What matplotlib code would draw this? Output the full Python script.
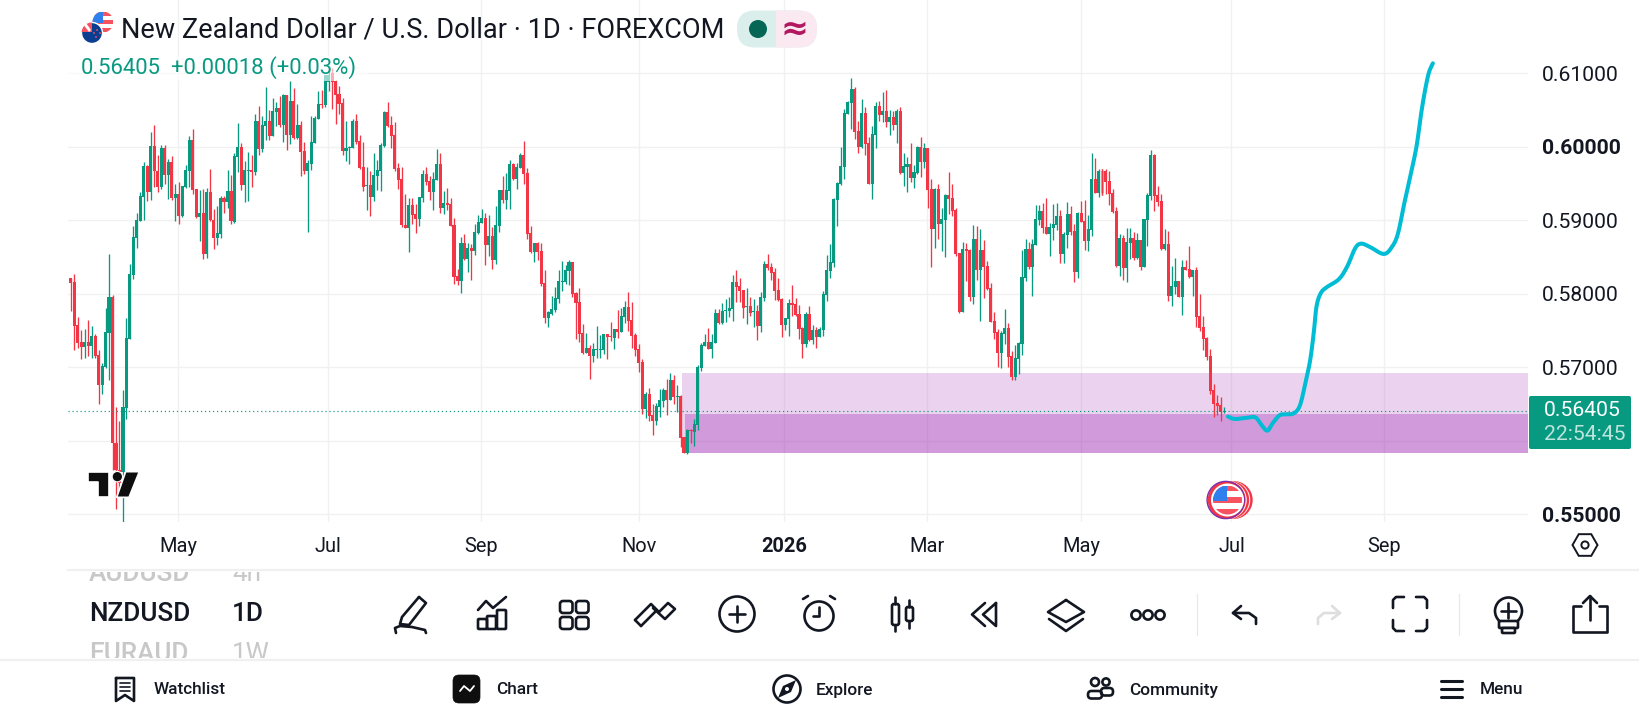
import numpy as np
import matplotlib
matplotlib.use("Agg")
import matplotlib.pyplot as plt
from matplotlib.patches import Rectangle, Circle, Polygon, FancyBboxPatch

plt.rcParams['font.family'] = ['Roboto', 'DejaVu Sans']

# prices, in units of 0.00001
opens = [
58216,58161,57576,57345,57277,57345,57291,57427,57168,56760,
56998,57468,57957,55971,55604,55581,56452,57386,58257,58760,
58996,59322,59740,59390,60012,59667,59454,59985,59617,59789,
59304,59359,59059,59458,59672,60093,59422,59046,59096,58542,
59386,59005,58760,58814,59304,59250,59399,58978,59857,59998,
59481,59667,59681,59658,60352,59971,60284,60352,60148,60474,
60529,60297,60705,60161,60624,60120,60297,59944,59672,59771,
60053,60379,60583,60569,60887,61000,60896,60715,60597,59944,
59985,59985,60352,60080,59726,59467,59481,59318,59604,59672,
60012,60474,60297,60161,59712,59563,58937,58896,59209,59087,
59018,59304,59631,59535,59386,59549,59767,59168,59236,59223,
58937,58243,58175,58692,58474,58624,58583,58828,58964,59032,
58665,58787,58461,58923,59413,59277,59399,59767,59563,59712,
59889,59644,58828,58570,58692,58583,58148,57672,57726,57780,
57930,58166,58162,58311,58434,58012,57890,57468,57196,57264,
57155,57241,57241,57241,57454,57427,57400,57522,57481,57686,
57822,57645,57441,57250,57073,56434,56638,56352,56271,56461,
56543,56692,56556,56828,56602,56611,56053,55835,56148,56121,
56216,56992,57291,57345,57250,57332,57740,57604,57767,57767,
57794,58162,58107,58053,57822,57835,57754,57767,57563,57944,
58407,58366,58298,58053,57930,57577,57658,57876,57862,57726,
57536,57318,57726,57373,57509,57413,57509,57985,58311,58420,
59277,59495,59726,60447,60597,60787,60216,59998,60461,60053,
59495,60162,60556,60434,60488,60338,60407,60298,60488,59645,
59726,59767,59577,59645,59998,59794,59985,59427,58883,59427,
58951,59005,59345,59305,59141,58556,57754,58611,58597,57958,
58747,58325,58597,58379,58080,57631,57481,57196,57454,57536,
57155,56869,57114,57318,58216,58611,58366,58664,59005,59127,
58909,58814,58896,58937,59059,58542,58800,59086,58855,58297,
59100,58991,58719,58868,59562,59372,59671,59671,59535,59372,
59127,58379,58760,58351,58692,58760,58488,58732,58365,59005,
59331,59889,59345,59263,58610,58678,57971,58093,58175,57957,
58365,58338,58229,58324,57698,57549,57399,57154,56692,56515,
56488,56387]
highs = [
58216,58270,57690,57508,57522,57644,57563,57454,57236,57055,
57808,58542,57985,56456,56270,56692,57667,58406,58923,59096,
59386,59789,59753,60202,60297,59889,60025,60021,59830,59876,
59495,59522,59467,59753,60148,60238,59422,59413,59422,59440,
59699,59155,59195,59331,59331,59685,59617,59912,60325,60048,
59808,59930,59889,60447,60556,60420,60814,60502,60665,60610,
60692,60719,60705,60896,60801,60583,60352,60066,59821,60420,
60420,60760,60774,60978,61068,61068,60910,60828,60665,60352,
60012,60379,60447,60161,60066,59730,59672,59912,59821,60048,
60488,60610,60420,60338,59780,59721,59359,59304,59304,59223,
59318,59685,59726,59604,59658,59971,59916,59399,59440,59304,
59032,58338,58774,58814,58692,58678,58950,59073,59155,59100,
59073,58910,59195,59413,59604,59644,59821,59780,59785,59916,
60080,59712,58923,58692,58706,58692,58325,57767,57971,58093,
58325,58447,58393,58461,58434,58026,58080,57590,57468,57305,
57332,57563,57441,57454,57454,57617,57522,57781,57808,57903,
58026,57890,57468,57318,57114,56665,56720,56502,56511,56706,
56720,56842,56924,56896,56760,56624,56053,56162,56162,56298,
57032,57332,57454,57536,57454,57794,57794,57876,57930,57958,
58257,58325,58216,58053,58080,57958,57930,57849,58026,58447,
58543,58420,58352,58216,57944,57672,57930,58121,57944,57849,
57549,57754,57835,57577,57549,57549,58039,58529,58679,59305,
59522,59998,60515,60624,60937,60815,60352,60651,60543,60134,
60284,60611,60624,60747,60774,60502,60488,60515,60543,59917,
59862,60053,59753,60012,60134,60053,59985,59563,59441,59495,
59168,59359,59658,59495,59168,58556,58706,58692,58611,58937,
58924,58883,58733,58447,58148,57754,57522,57495,57794,57604,
57223,57305,57345,58597,58747,58706,58747,59209,59209,59236,
59304,58964,59222,59236,59141,58841,59249,59195,58950,59113,
59263,59277,59073,59916,59848,59698,59698,59698,59671,59426,
59181,58814,58800,58896,58896,58841,58828,58732,59018,59372,
59957,59902,59467,59358,58882,58855,58379,58488,58175,58460,
58460,58651,58324,58365,57998,57698,57413,57249,56773,56624,
56597,56460]
lows = [
57771,57236,57268,57118,57132,57155,57132,57132,56502,56638,
56991,56828,55604,55078,55332,54901,56302,57382,58207,58624,
58996,59005,59263,59277,59458,59386,59431,59495,59291,59277,
58991,58950,59046,59436,59458,59359,59028,58719,58474,58488,
58991,58610,58665,58760,59096,59164,58950,58960,59662,59413,
59250,59259,59458,59617,59889,59930,60093,60093,60148,60284,
60275,60066,59957,60039,60107,60107,59604,59631,58846,59685,
60053,60379,60524,60538,60760,60515,60311,60447,59889,59808,
59767,59980,60039,59699,59399,59141,59059,59268,59413,59399,
60003,60270,59985,59672,59427,58910,58896,58570,58950,58828,
58923,59250,59481,59277,59141,59549,59100,59087,59141,58923,
58134,58121,58012,58461,58297,58189,58529,58814,58964,58393,
58515,58338,58406,58842,59236,59155,59155,59549,59427,59712,
59495,58746,58556,58434,58461,58107,57604,57549,57712,57753,
57876,58039,58135,58121,57958,57386,57345,57182,57196,56842,
57073,57128,57128,57182,57114,57359,57250,57400,57481,57604,
57495,57264,57155,56937,56366,56311,56271,56080,56216,56325,
56461,56352,56556,56502,56398,55917,55835,55822,55971,55930,
56148,56951,57291,57250,57128,57332,57590,57590,57617,57686,
57631,57890,57890,57672,57590,57699,57549,57373,57481,57903,
58325,58189,57917,57903,57413,57509,57427,57699,57699,57386,
57128,57277,57359,57318,57264,57413,57427,57903,58216,58366,
58924,59481,59563,60447,60243,60107,59917,59985,59890,59495,
59291,59985,60352,60338,60270,60162,60230,60053,59631,59468,
59386,59522,59441,59631,59590,59713,59168,58366,58624,58747,
58583,58502,59087,59060,58515,57740,57754,58175,57903,57862,
58189,57631,57944,58053,57617,57386,57005,56992,57318,57005,
56828,56828,56910,57169,58175,58339,57971,58664,58937,58828,
58814,58515,58732,58868,58420,58420,58624,58800,58161,58215,
58977,58596,58583,58787,59372,59317,59345,59358,59209,59100,
58365,58243,58188,58161,58474,58460,58474,58324,58365,58651,
59277,59127,59195,58596,58596,57903,57835,57998,57957,57712,
58324,58215,57971,57549,57494,57236,57100,56637,56324,56352,
56270,56379]
closes = [
58152,57563,57336,57277,57345,57291,57427,57155,56760,57018,
57481,57957,55966,55604,55422,56456,57399,58270,58769,59005,
59331,59740,59390,60012,59667,59454,59985,59617,59789,59304,
59359,59059,59467,59681,60093,59413,59046,59096,58542,59386,
59005,58760,58828,59304,59250,59399,58991,59876,59994,59481,
59685,59681,59658,60352,59971,60297,60352,60148,60488,60529,
60297,60705,60161,60624,60120,60297,59930,59672,59780,60066,
60393,60583,60565,60978,60978,60887,60705,60583,59944,59985,
59998,60352,60066,59712,59454,59481,59318,59617,59681,60025,
60474,60284,60148,59699,59549,58937,58896,59209,59073,59018,
59318,59631,59522,59386,59563,59767,59168,59236,59214,58923,
58229,58175,58692,58470,58624,58583,58842,58978,59032,58665,
58787,58461,58937,59413,59277,59413,59767,59563,59726,59889,
59631,58814,58570,58692,58570,58134,57672,57753,57794,57944,
58175,58175,58325,58434,57998,57876,57454,57196,57264,57155,
57250,57250,57250,57454,57413,57413,57522,57481,57699,57822,
57631,57427,57237,57060,56434,56638,56339,56271,56475,56556,
56692,56556,56828,56597,56611,56039,55835,56148,56135,56230,
57005,57305,57345,57250,57345,57740,57604,57767,57781,57808,
58162,58094,58039,57808,57835,57740,57767,57563,57958,58407,
58352,58284,58039,57917,57577,57672,57876,57849,57713,57522,
57318,57726,57373,57509,57413,57522,57998,58325,58434,59291,
59509,59740,60461,60611,60787,60202,59998,60461,60039,59495,
60175,60556,60434,60488,60338,60407,60298,60488,59645,59740,
59767,59577,59658,59998,59794,59985,59413,58883,59427,58951,
59019,59345,59291,59128,58543,57754,58611,58583,57958,58747,
58325,58597,58366,58066,57617,57468,57196,57468,57536,57141,
56869,57128,57332,58230,58611,58366,58679,59018,59127,58896,
58814,58909,58950,59059,58542,58814,59086,58841,58297,59100,
58977,58719,58882,59562,59372,59671,59372,59522,59358,59113,
58379,58760,58351,58705,58760,58488,58732,58365,59018,59345,
59889,59331,59249,58610,58678,57971,58107,58175,57957,58365,
58324,58229,58324,57685,57535,57386,57141,56678,56501,56474,
56387,56405]

forecast_x = [332.1,334.0,337.0,339.9,341.7,343.4,344.9,346.9,348.7,351.0,352.8,354.5,355.7,356.7,357.5,358.7,
              360.4,363.9,366.3,368.6,370.3,372.7,376.8,379.2,380.9,382.7,384.4,386.2,387.4,388.5,389.7,390.9]
forecast_y = [56330,56298,56311,56320,56216,56139,56239,56348,56361,56375,56488,56828,57100,57463,57826,58007,
              58089,58198,58370,58620,58683,58642,58543,58642,58824,59232,59595,60003,60411,60729,61001,61137]

month_pos = [30.9,73.9,117.8,163.0,204.8,245.8,290.0,333.1,376.9]
month_labels = ['May','Jul','Sep','Nov','2026','Mar','May','Jul','Sep']
price_ticks = [0.55,0.56,0.57,0.58,0.59,0.60,0.61]
price_labels = ['0.55000','','0.57000','0.58000','0.59000','0.60000','0.61000']
last_price = 0.56405
zone_light = (175.4, 0.55840, 0.56924)
zone_dark = (176.3, 0.55840, 0.56366)

GREEN='#089981'; RED='#F23645'; INK='#131722'; GRID='#f1f1f1'

o=np.array(opens)/1e5; h=np.array(highs)/1e5; l=np.array(lows)/1e5; c=np.array(closes)/1e5
x=np.arange(len(o))
up=c>=o
cols=np.where(up,GREEN,RED)

fig=plt.figure(figsize=(16.4,7.2),dpi=100,facecolor='white')
ax=fig.add_axes([68/1640,(720-521.7)/720,(1528-68)/1640,521.7/720])
ax.set_xlim(-0.775,418.2)
ax.set_ylim(0.54900,0.61998)
for s in ax.spines.values(): s.set_visible(False)
ax.set_xticks(month_pos); ax.set_xticklabels(month_labels,fontsize=14.4,color=INK)
ax.yaxis.tick_right()
ax.set_yticks(price_ticks); ax.set_yticklabels(price_labels,fontsize=15.2,color=INK)
ax.tick_params(axis='both',length=0)
ax.tick_params(axis='x',pad=11.2)
ax.tick_params(axis='y',pad=10)
for t in ax.get_xticklabels():
    if t.get_text()=='2026': t.set_fontweight('bold')
for t in ax.get_yticklabels():
    if t.get_text() in ('0.60000','0.55000'): t.set_fontweight('bold')
ax.grid(True,color=GRID,lw=1.0,zorder=0)
ax.set_axisbelow(True)

x1=ax.get_xlim()[1]
ax.add_patch(Rectangle((zone_light[0],zone_light[1]),x1-zone_light[0],zone_light[2]-zone_light[1],fc='#9c27b0',alpha=0.2,lw=0,zorder=1))
ax.add_patch(Rectangle((zone_dark[0],zone_dark[1]),x1-zone_dark[0],zone_dark[2]-zone_dark[1],fc='#9c27b0',alpha=0.33,lw=0,zorder=1.1))

ax.vlines(x,l,h,colors=cols,lw=0.95,zorder=2)
body_cols=list(cols); body_cols[296]='#e79ccb'
heights=np.maximum(np.abs(c-o),0.00012)
ax.bar(x,heights,bottom=np.minimum(o,c),width=0.88,color=body_cols,lw=0,zorder=2.1)
ax.vlines([296],[l[296]],[h[296]],colors=RED,lw=0.95,zorder=2.2)

ax.axhline(last_price,color=GREEN,lw=0.85,ls=(0,(1,2.4)),zorder=3)

def smooth(px,py,n=10):
    px=np.array(px,float); py=np.array(py,float)
    P=np.column_stack([px,py]); P=np.vstack([2*P[0]-P[1],P,2*P[-1]-P[-2]])
    out=[]
    for k in range(1,len(P)-2):
        for t in np.linspace(0,1,n,endpoint=False):
            out.append(0.5*((2*P[k])+(-P[k-1]+P[k+1])*t+(2*P[k-1]-5*P[k]+4*P[k+1]-P[k+2])*t*t+(-P[k-1]+3*P[k]-3*P[k+1]+P[k+2])*t**3))
    out.append(P[-2])
    return np.array(out)
fc=smooth(forecast_x,np.array(forecast_y)/1e5)
ax.plot(fc[:,0],fc[:,1],color='#00BCD4',lw=2.9,solid_capstyle='round',solid_joinstyle='round',zorder=4)

# ---------- interface overlay, in pixels ----------
ui=fig.add_axes([0,0,1,1],zorder=5); ui.set_xlim(0,1640); ui.set_ylim(720,0); ui.axis('off'); ui.patch.set_alpha(0)

# legend veil
ui.add_patch(Rectangle((68,56),300,25,fc='white',alpha=0.6,lw=0))

def us_flag(cx,cy,r,z=6):
    clip=Circle((cx,cy),r,transform=ui.transData)
    items=[Rectangle((cx-r,cy-r),2*r,2*r,fc='white',lw=0,zorder=z)]
    sh=2*r/5
    for k in (0,2,4):
        items.append(Rectangle((cx-r,cy-r+k*sh),2*r,sh,fc='#F7525F',lw=0,zorder=z))
    items.append(Rectangle((cx-r,cy-r),r,r*1.05,fc='#2f80ed',lw=0,zorder=z))
    for it in items:
        ui.add_patch(it); it.set_clip_path(clip)

# title block
us_flag(103,22,10.5)
nz=Circle((92,33),10.5,fc='#0B3D91',ec='white',lw=1.0,zorder=7); ui.add_patch(nz)
clip=Circle((92,33),10.5,transform=ui.transData)
p=Rectangle((81,22),11,10,fc='#F7525F',lw=0,zorder=7.1); ui.add_patch(p); p.set_clip_path(clip)
p=Polygon([(83,24),(86,23),(91,30),(89,32)],fc='white',lw=0,zorder=7.2); ui.add_patch(p)
for sx,sy in [(97,30),(96,37),(100,33),(94,33)]:
    ui.add_patch(Circle((sx,sy),0.9,fc='#F7525F',lw=0,zorder=7.3))
ui.text(121,30,'New Zealand Dollar / U.S. Dollar · 1D · FOREXCOM',fontsize=19.55,color=INK,va='center',ha='left')
ui.text(81,68,'0.56405',fontsize=15.9,color=GREEN,va='center',ha='left')
ui.text(171,68,'+0.00018 (+0.03%)',fontsize=15.9,color=GREEN,va='center',ha='left')
pill=FancyBboxPatch((737,10.5),80,37,boxstyle='round,pad=0,rounding_size=18',fc='#DAEFEB',lw=0); ui.add_patch(pill)
clipr=FancyBboxPatch((737,10.5),80,37,boxstyle='round,pad=0,rounding_size=18',fc='none',lw=0,transform=ui.transData); ui.add_patch(clipr)
rr=Rectangle((776,10),42,38,fc='#FBE9F2',lw=0); ui.add_patch(rr); rr.set_clip_path(clipr)
ui.add_patch(Circle((758,29),9,fc='#056656',lw=0))
ui.text(795,29,'≈',fontsize=24,color='#B2185F',ha='center',va='center',fontweight='bold',family=['DejaVu Sans'])

# last price tag
ui.add_patch(FancyBboxPatch((1529,396),102,53,boxstyle='round,pad=0,rounding_size=2',fc=GREEN,lw=0))
ui.text(1544,411,'0.56405',fontsize=15.2,color='white',va='center',ha='left')
ui.text(1544,435,'22:54:45',fontsize=15.2,color='#BDE5DC',va='center',ha='left')

# logo
lx=lambda X:60+X/3
ly=lambda Y:250+Y/3
halo=dict(ec='white',lw=1.2,joinstyle='round')
ui.add_patch(Polygon([(lx(a),ly(b)-1) for a,b in [(85,668),(147,668),(147,745),(115,745),(115,700),(85,700)]],fc='#0E0E0E',zorder=6,**halo))
ui.add_patch(Polygon([(lx(a),ly(b)-1) for a,b in [(197,668),(238,668),(207,745),(170,745)]],fc='#0E0E0E',zorder=6,**halo))
ui.add_patch(Circle((lx(172),ly(683)-1),5.2,fc='#0E0E0E',zorder=6,ec='white',lw=0.8))

# event coin
for dx,col in [(8,RED),(5.5,'white'),(4.5,RED),(2,'white'),(1,RED)]:
    ui.add_patch(Circle((1225.7+dx,500),19,fc=col,lw=0,zorder=6))
ui.add_patch(Circle((1225.7,500),18.6,fc='none',ec='#7B2FA8',lw=1,zorder=6.1))
ui.add_patch(Circle((1227.5,500),16.5,fc='white',lw=0,zorder=6.2))
us_flag(1227.5,500,14.5,z=6.3)

# settings hexagon
ang=np.deg2rad([0,60,120,180,240,300])
ui.add_patch(Polygon(np.column_stack([1585+12.5*np.cos(ang),545+12.5*np.sin(ang)]),fc='white',ec=INK,lw=1.4))
ui.add_patch(Circle((1585,545),3.6,fc='white',ec=INK,lw=1.4))

# separators
ui.plot([1197,1197],[594,635],color='#e8e8e8',lw=0.9)
ui.plot([1459,1459],[594,635],color='#e8e8e8',lw=0.9)

# symbol picker
ui.text(89,574,'AUDUSD',fontsize=18.8,color='#c8c8c8',va='center',ha='left',fontweight='medium',zorder=2)
ui.text(232,574,'4h',fontsize=18.8,color='#c8c8c8',va='center',ha='left',zorder=2)
ui.text(89,654,'EURAUD',fontsize=18.8,color='#c8c8c8',va='center',ha='left',fontweight='medium',zorder=2)
ui.text(232,654,'1W',fontsize=18.8,color='#c8c8c8',va='center',ha='left',zorder=2)
ui.add_patch(Rectangle((80,556),200,16,fc='white',lw=0,zorder=3))
ui.add_patch(Rectangle((80,658),200,14,fc='white',lw=0,zorder=3))
ui.plot([68,1640],[569.5,569.5],color='#f0f0f0',lw=1.6,zorder=3.1)
ui.plot([0,1640],[659.5,659.5],color='#f0f0f0',lw=1.6,zorder=3.1)
ui.text(89,614,'NZDUSD',fontsize=18.8,color=INK,va='center',ha='left',fontweight='medium')
ui.text(232,614,'1D',fontsize=18.8,color=INK,va='center',ha='left',fontweight='medium')

ILW=1.9
def line(pts,col=INK,lw=ILW,closed=False):
    pts=np.array(pts,float)
    if closed: pts=np.vstack([pts,pts[0]])
    ui.plot(pts[:,0],pts[:,1],color=col,lw=lw,solid_capstyle='round',solid_joinstyle='round')
def rrect(x0,y0,w,hh,r=2.5,fc='none',ec=INK,lw=ILW):
    ui.add_patch(FancyBboxPatch((x0,y0),w,hh,boxstyle=f'round,pad=0,rounding_size={r}',fc=fc,ec=ec,lw=lw))

# pencil
line([(419,597),(426,603),(409,625),(400,624),(402,617)],closed=True)
line([(396,633),(395,628),(400,626),(412,627),(425,630),(426,633)])
# chart icon
line([(478,610),(486,601),(493,608),(506,597)])
rrect(478,619,9,10,1); rrect(487,616,9,13,1); rrect(497,610,9,19,1)
# grid
for a in (560,576):
    for b in (601,617):
        rrect(a,b,12.5,12,3)
# trend arrows
line([(635,620),(651,604),(659,612)]); line([(641,626),(655,612)]); line([(635,620),(641,626)])
line([(659,612),(668,603),(675,609),(665,619),(653,608)])
# plus circle
ui.add_patch(Circle((737,614),17.5,fc='none',ec=INK,lw=ILW))
line([(737,606),(737,622)]); line([(729,614),(745,614)])
# alarm
ui.add_patch(Circle((819,616),14.5,fc='none',ec=INK,lw=ILW))
line([(819,607),(819,616),(813,616)]); line([(803,599),(808,596)]); line([(835,599),(830,596)])
# candles
rrect(892,604,7,21,2); line([(895.5,597),(895.5,604)]); line([(895.5,625),(895.5,631)])
rrect(906,607,7,14,2); line([(909.5,600),(909.5,607)]); line([(909.5,621),(909.5,628)])
# rewind
line([(985,603),(972,614.5),(985,626)]); line([(996,603),(983,614.5),(996,626),(996,603)])
# layers
line([(1066,600),(1084,612),(1066,622),(1048,612)],closed=True)
line([(1049,619),(1066,631),(1083,619)])
# dots
for a in (1136,1148,1160):
    ui.add_patch(Circle((a,615),4.6,fc='none',ec=INK,lw=ILW))
# undo / redo
line([(1241,606),(1233,613),(1241,619)]); line([(1233,613),(1249,613),(1256,618),(1256,624)])
line([(1332,606),(1340,613),(1332,619)],col='#dedede'); line([(1340,613),(1324,613),(1318,618),(1318,624)],col='#dedede')
# frame
for sx,sy in [(1393,597),(1427,597),(1393,631),(1427,631)]:
    dx=1 if sx<1400 else -1; dy=1 if sy<600 else -1
    line([(sx,sy+dy*11),(sx,sy+dy*3),(sx+dx*3,sy),(sx+dx*11,sy)],lw=1.9)
# bulb
ui.add_patch(Circle((1508.5,611),13.5,fc='none',ec=INK,lw=ILW))
line([(1508.5,603),(1508.5,618)]); line([(1501,611),(1516,611)])
rrect(1499,621,19,7,1,fc='white'); rrect(1502,628,13,5,1,fc='white')
# share
line([(1581,606),(1573,606),(1573,632),(1607,632),(1607,606),(1599,606)])
line([(1590,620),(1590,596)]); line([(1583,603),(1590,596),(1597,603)])

# bottom nav
navfs=12.4
ui.text(154,690,'Watchlist',fontsize=navfs,color=INK,va='center',ha='left',fontweight='medium')
ui.text(496,690,'Chart',fontsize=navfs,color=INK,va='center',ha='left',fontweight='medium')
ui.text(816,690,'Explore',fontsize=navfs,color=INK,va='center',ha='left',fontweight='medium')
ui.text(1129,690,'Community',fontsize=navfs,color=INK,va='center',ha='left',fontweight='medium')
ui.text(1480,690,'Menu',fontsize=navfs,color=INK,va='center',ha='left',fontweight='medium')
line([(116,678),(134,678),(134,701),(125,695),(116,701)],closed=True)
for b in (683,687,691): line([(120,b),(130,b)],lw=1.2)
rrect(453,675,27,28,6,fc='#0E0E0E',ec='#0E0E0E',lw=0.5)
line([(460,691),(464,686),(470,691),(474,686)],col='white',lw=1.3)
ui.add_patch(Circle((787,689),13.5,fc='none',ec=INK,lw=ILW))
ui.add_patch(Polygon([(796,680),(791,692),(778,698),(783,686)],fc=INK,lw=0))
ui.add_patch(Circle((787,689),2,fc='white',lw=0))
ui.add_patch(Circle((1095,682),4,fc='none',ec=INK,lw=ILW)); ui.add_patch(Circle((1106,682),3.6,fc='none',ec=INK,lw=ILW))
rrect(1088,691,14,7.5,3.5); rrect(1101,688,12,7.5,3.5)
for b in (681,689,697): line([(1441,b),(1462,b)],lw=2.2)

fig.savefig('out.png',dpi=100)
